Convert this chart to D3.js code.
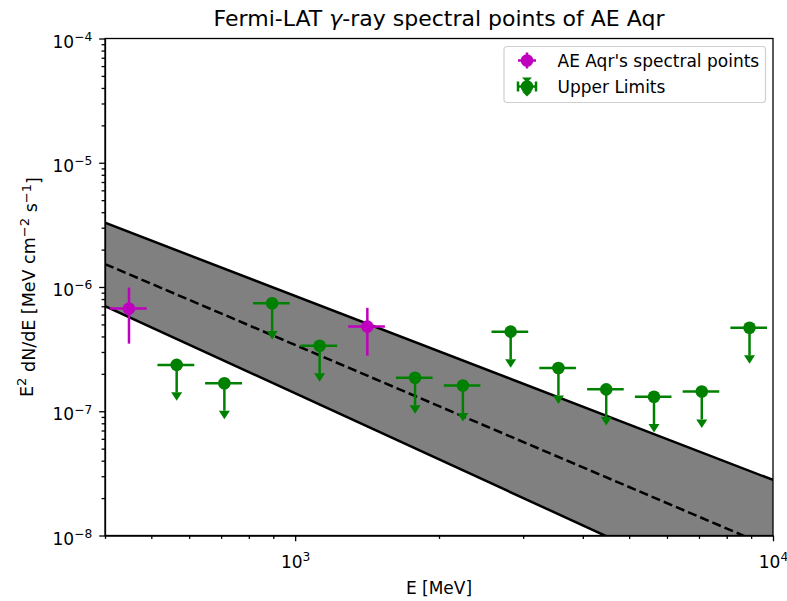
<!DOCTYPE html>
<html>
<head>
<meta charset="utf-8">
<script src="https://cdn.jsdelivr.net/npm/d3@7"></script>
<style>
  body { margin: 0; background: #fff; }
  svg text { font-family: "DejaVu Sans", sans-serif; fill: #000; }
  .axis path, .axis line { stroke: #000; stroke-width: 1.3; }
</style>
</head>
<body>
<svg id="chart" width="787" height="601"></svg>
<script>
// spectral points (detections)
var detE = [449, 1416];
var detEerr = [40, 125];
var detFlux = [6.7e-7, 4.8e-7];
var detFluxErr = [3.2e-7, 2.0e-7];

// upper limits
var ulE = [565, 711, 895, 1125, 1782, 2244, 2825, 3556, 4477, 5636, 7095, 8930];
var ulEerr = [50, 63, 79, 99, 157, 197, 249, 313, 394, 496, 624, 786];
var ulFlux = [2.36e-7, 1.68e-7, 7.39e-7, 3.37e-7, 1.86e-7, 1.61e-7, 4.37e-7, 2.23e-7, 1.50e-7, 1.31e-7, 1.44e-7, 4.70e-7];
var ulArrow = [0.94e-7, 0.67e-7, 2.96e-7, 1.35e-7, 0.74e-7, 0.64e-7, 1.75e-7, 0.89e-7, 0.60e-7, 0.52e-7, 0.58e-7, 1.88e-7];

// power-law model and its band, at the two ends of the energy range
var modelE = [400, 10000];
var modelBest = [1.53e-6, 7.9e-9];
var modelUpper = [3.29e-6, 2.80e-8];
var modelLower = [7.03e-7, 2.39e-9];

var yTicks = [1e-8, 1e-7, 1e-6, 1e-5, 1e-4];
var xTicks = [1e3, 1e4];

var margin = {top: 38.5, right: 14, bottom: 65.5, left: 105};
var width = 787 - margin.left - margin.right;
var height = 601 - margin.top - margin.bottom;

var svg = d3.select("#chart");
var g = svg.append("g").attr("transform", "translate(" + margin.left + "," + margin.top + ")");

var x = d3.scaleLog().domain([400, 10000]).range([0, width]);
var y = d3.scaleLog().domain([1e-8, 1e-4]).range([height, 0]);

g.append("clipPath").attr("id", "clip")
  .append("rect").attr("width", width).attr("height", height);

var plot = g.append("g").attr("clip-path", "url(#clip)");

// band
var model = modelE.map(function (e, i) {
  return {e: e, best: modelBest[i], up: modelUpper[i], lo: modelLower[i]};
});
plot.append("path")
  .datum(model)
  .attr("fill", "#808080")
  .attr("d", d3.area()
    .x(function (d) { return x(d.e); })
    .y0(function (d) { return y(d.lo); })
    .y1(function (d) { return y(d.up); }));

["up", "lo"].forEach(function (k) {
  plot.append("path")
    .datum(model)
    .attr("fill", "none")
    .attr("stroke", "#000")
    .attr("stroke-width", 2.5)
    .attr("d", d3.line()
      .x(function (d) { return x(d.e); })
      .y(function (d) { return y(d[k]); }));
});
plot.append("path")
  .datum(model)
  .attr("fill", "none")
  .attr("stroke", "#000")
  .attr("stroke-width", 2.5)
  .attr("stroke-dasharray", "9.2,4")
  .attr("d", d3.line()
    .x(function (d) { return x(d.e); })
    .y(function (d) { return y(d.best); }));

// upper limits
var green = "#008000";
var ul = ulE.map(function (e, i) {
  return {e: e, de: ulEerr[i], f: ulFlux[i], df: ulArrow[i]};
});
var ulG = plot.selectAll(".ul").data(ul).enter().append("g").attr("class", "ul");
ulG.append("line")
  .attr("x1", function (d) { return x(d.e - d.de); })
  .attr("x2", function (d) { return x(d.e + d.de); })
  .attr("y1", function (d) { return y(d.f); })
  .attr("y2", function (d) { return y(d.f); })
  .attr("stroke", green).attr("stroke-width", 2.5);
ulG.append("line")
  .attr("x1", function (d) { return x(d.e); })
  .attr("x2", function (d) { return x(d.e); })
  .attr("y1", function (d) { return y(d.f); })
  .attr("y2", function (d) { return y(d.f - d.df); })
  .attr("stroke", green).attr("stroke-width", 2.5);
ulG.append("path")
  .attr("fill", green)
  .attr("d", function (d) {
    var cx = x(d.e), cy = y(d.f - d.df);
    return "M" + (cx - 5.5) + "," + cy + "L" + (cx + 5.5) + "," + cy + "L" + cx + "," + (cy + 8.5) + "Z";
  });
ulG.append("circle")
  .attr("cx", function (d) { return x(d.e); })
  .attr("cy", function (d) { return y(d.f); })
  .attr("r", 6.3)
  .attr("fill", green);

// detections
var mag = "#bf00bf";
var det = detE.map(function (e, i) {
  return {e: e, de: detEerr[i], f: detFlux[i], df: detFluxErr[i]};
});
var detG = plot.selectAll(".det").data(det).enter().append("g").attr("class", "det");
detG.append("line")
  .attr("x1", function (d) { return x(d.e - d.de); })
  .attr("x2", function (d) { return x(d.e + d.de); })
  .attr("y1", function (d) { return y(d.f); })
  .attr("y2", function (d) { return y(d.f); })
  .attr("stroke", mag).attr("stroke-width", 2.5);
detG.append("line")
  .attr("x1", function (d) { return x(d.e); })
  .attr("x2", function (d) { return x(d.e); })
  .attr("y1", function (d) { return y(d.f + d.df); })
  .attr("y2", function (d) { return y(d.f - d.df); })
  .attr("stroke", mag).attr("stroke-width", 2.5);
detG.append("circle")
  .attr("cx", function (d) { return x(d.e); })
  .attr("cy", function (d) { return y(d.f); })
  .attr("r", 6.3)
  .attr("fill", mag);

// axes
function powLabel(sel) {
  sel.selectAll(".tick text").each(function (d) {
    var t = d3.select(this).text("");
    var ex = Math.round(Math.log10(d));
    t.append("tspan").text("10");
    t.append("tspan").attr("dy", "-0.55em").attr("font-size", "0.72em")
      .text(String(ex).replace("-", "\u2212"));
  });
}

var minorX = [];
[100, 1000].forEach(function (b) {
  for (var k = 2; k <= 9; k++) if (b * k >= 400 && b * k <= 10000) minorX.push(b * k);
});
var minorY = [];
[1e-8, 1e-7, 1e-6, 1e-5].forEach(function (b) {
  for (var k = 2; k <= 9; k++) minorY.push(b * k);
});

g.append("g").attr("class", "axis")
  .attr("transform", "translate(0," + height + ")")
  .call(d3.axisBottom(x).tickValues(minorX).tickSize(3.4).tickFormat(""))
  .select(".domain").remove();
var xAx = g.append("g").attr("class", "axis")
  .attr("transform", "translate(0," + height + ")")
  .call(d3.axisBottom(x).tickValues(xTicks).tickSize(5.8).tickPadding(5.8).tickSizeOuter(0));
xAx.selectAll("text").attr("font-size", "17px").attr("dy", "1.2em");
powLabel(xAx);

g.append("g").attr("class", "axis")
  .call(d3.axisLeft(y).tickValues(minorY).tickSize(3.4).tickFormat(""))
  .select(".domain").remove();
var yAx = g.append("g").attr("class", "axis")
  .call(d3.axisLeft(y).tickValues(yTicks).tickSize(5.8).tickPadding(7).tickSizeOuter(0));
yAx.selectAll("text").attr("font-size", "17px").attr("dy", "0.5em");
powLabel(yAx);

// frame
g.append("rect")
  .attr("width", width).attr("height", height)
  .attr("fill", "none").attr("stroke", "#000").attr("stroke-width", 1.3);

// titles
var title = svg.append("text")
  .attr("x", margin.left + width / 2).attr("y", 26)
  .attr("text-anchor", "middle").attr("font-size", "22px");
title.append("tspan").text("Fermi-LAT ");
title.append("tspan").attr("font-style", "italic").text("\u03b3");
title.append("tspan").text("-ray spectral points of AE Aqr");

svg.append("text")
  .attr("x", margin.left + width / 2).attr("y", 594)
  .attr("text-anchor", "middle").attr("font-size", "17px")
  .text("E [MeV]");

var yl = svg.append("text")
  .attr("transform", "translate(33," + (margin.top + height / 2) + ") rotate(-90)")
  .attr("text-anchor", "middle").attr("font-size", "17.5px");
yl.append("tspan").text("E");
yl.append("tspan").attr("dy", "-0.5em").attr("font-size", "0.75em").text("2");
yl.append("tspan").attr("dy", "0.5em").text(" dN/dE [MeV cm");
yl.append("tspan").attr("dy", "-0.5em").attr("font-size", "0.75em").text("\u22122");
yl.append("tspan").attr("dy", "0.5em").text(" s");
yl.append("tspan").attr("dy", "-0.5em").attr("font-size", "0.75em").text("\u22121");
yl.append("tspan").attr("dy", "0.5em").text("]");

// legend
var lg = svg.append("g").attr("transform", "translate(504,46.5)");
lg.append("rect")
  .attr("width", 261.5).attr("height", 56)
  .attr("rx", 3)
  .attr("fill", "#fff").attr("fill-opacity", 0.8)
  .attr("stroke", "#d0d0d0").attr("stroke-width", 1.2);

var h1 = lg.append("g").attr("transform", "translate(23,14)");
h1.append("line").attr("x1", -9).attr("x2", 9).attr("stroke", mag).attr("stroke-width", 2.5);
h1.append("line").attr("y1", -8).attr("y2", 8).attr("stroke", mag).attr("stroke-width", 2.5);
h1.append("circle").attr("r", 6.3).attr("fill", mag);

var h2 = lg.append("g").attr("transform", "translate(23,40)");
h2.append("line").attr("x1", -9).attr("x2", 9).attr("stroke", green).attr("stroke-width", 2.5);
h2.append("line").attr("y1", -8).attr("y2", 8).attr("stroke", green).attr("stroke-width", 2.5);
h2.append("line").attr("x1", -9).attr("x2", -9).attr("y1", -5).attr("y2", 5).attr("stroke", green).attr("stroke-width", 2.5);
h2.append("line").attr("x1", 9).attr("x2", 9).attr("y1", -5).attr("y2", 5).attr("stroke", green).attr("stroke-width", 2.5);
h2.append("path").attr("d", "M-5,-9L5,-9L0,-4Z").attr("fill", green);
h2.append("path").attr("d", "M-5,5L5,5L0,10Z").attr("fill", green);
h2.append("circle").attr("r", 6.3).attr("fill", green);

lg.append("text").attr("x", 53.5).attr("y", 20).attr("font-size", "17px").text("AE Aqr's spectral points");
lg.append("text").attr("x", 53.5).attr("y", 46).attr("font-size", "17px").text("Upper Limits");
</script>
</body>
</html>
